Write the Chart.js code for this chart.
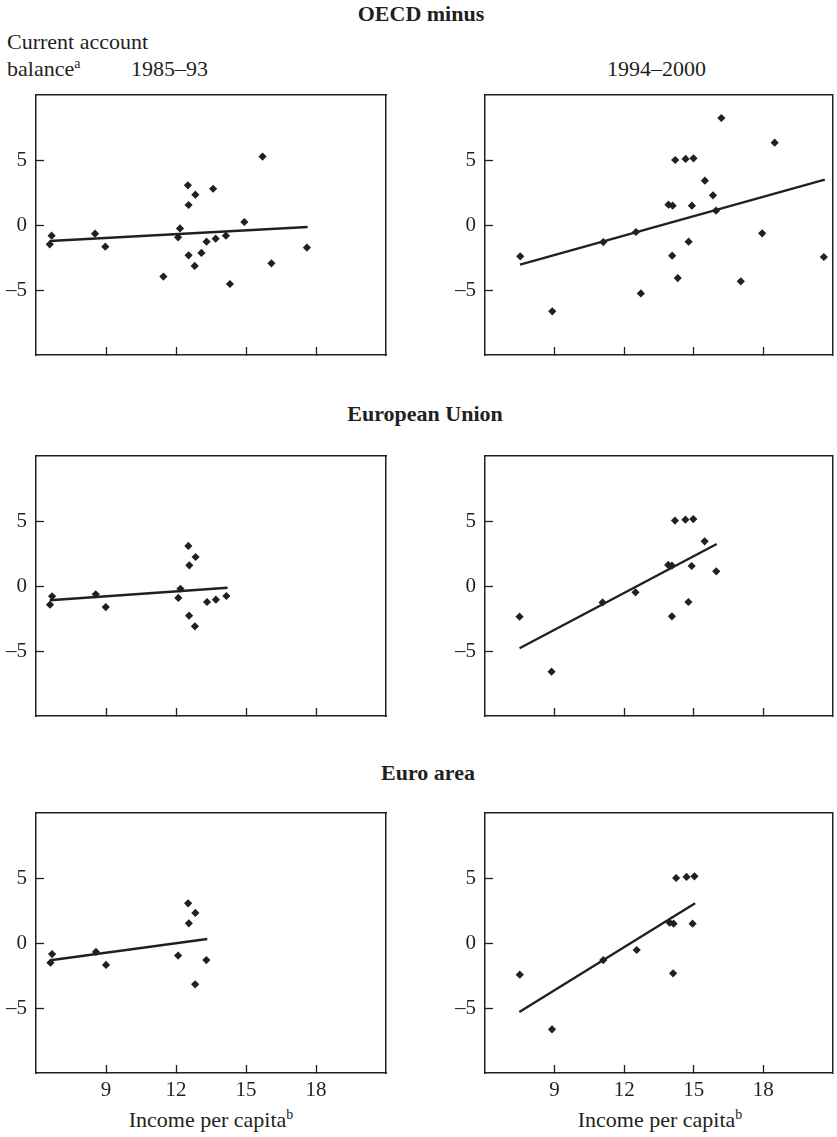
<!DOCTYPE html>
<html>
<head>
<meta charset="utf-8">
<script src="https://cdn.jsdelivr.net/npm/chart.js"></script>
<style>
  body { margin: 0; background: #fff; }
  #page { position: relative; width: 837px; height: 1137px; font-family: "Liberation Serif", "Times New Roman", serif; color: #231f20; }
  .txt { position: absolute; font-size: 22px; line-height: 22px; white-space: nowrap; }
  .head { font-weight: bold; transform: translateX(-50%); }
  .ctr { transform: translateX(-50%); }
  sup { font-size: 14px; vertical-align: 8px; line-height: 0; }
  canvas { position: absolute; }
</style>
</head>
<body>
<div id="page">
  <div class="txt head" style="left:421px; top:3px;">OECD minus</div>
  <div class="txt" style="left:7px; top:31px;">Current account</div>
  <div class="txt" style="left:7px; top:58px;">balance<sup>a</sup></div>
  <div class="txt" style="left:131px; top:58px;">1985–93</div>
  <div class="txt" style="left:607px; top:58px;">1994–2000</div>
  <div class="txt head" style="left:425px; top:403px;">European Union</div>
  <div class="txt head" style="left:428px; top:762px;">Euro area</div>
  <div class="txt ctr" style="left:211px; top:1109px;">Income per capita<sup>b</sup></div>
  <div class="txt ctr" style="left:660px; top:1109px;">Income per capita<sup>b</sup></div>

  <canvas id="c1" width="400" height="275" style="left:0; top:90px;"></canvas>
  <canvas id="c2" width="388" height="275" style="left:449px; top:90px;"></canvas>
  <canvas id="c3" width="400" height="275" style="left:0; top:451px;"></canvas>
  <canvas id="c4" width="388" height="275" style="left:449px; top:451px;"></canvas>
  <canvas id="c5" width="400" height="306" style="left:0; top:808px;"></canvas>
  <canvas id="c6" width="388" height="306" style="left:449px; top:808px;"></canvas>
</div>
<script>
  // income per capita (x) vs current account balance (y)
  const xTicks = [9, 12, 15, 18];
  const yTicks = [-5, 0, 5];

  // OECD minus, 1985-93
  const oecd85X = [6.59, 6.67, 8.53, 8.97, 11.46, 12.09, 12.17, 12.51, 12.54, 12.54, 12.83, 12.80, 13.09, 13.31, 13.59, 13.70, 14.14, 14.31, 14.93, 15.71, 16.09, 17.61];
  const oecd85Y = [-1.49, -0.82, -0.67, -1.67, -3.97, -0.95, -0.26, 3.05, 1.54, -2.33, 2.33, -3.15, -2.15, -1.28, 2.79, -1.05, -0.82, -4.54, 0.23, 5.26, -2.95, -1.74];
  const oecd85FitX = [6.59, 17.64];
  const oecd85FitY = [-1.23, -0.15];

  // OECD minus, 1994-2000
  const oecd94X = [7.52, 8.90, 11.10, 12.51, 12.72, 13.91, 14.09, 14.07, 14.20, 14.31, 14.65, 14.78, 14.92, 14.99, 15.48, 15.83, 15.96, 16.19, 17.03, 17.95, 18.49, 20.61];
  const oecd94Y = [-2.41, -6.64, -1.31, -0.54, -5.26, 1.56, 1.49, -2.36, 5.00, -4.08, 5.08, -1.28, 1.49, 5.13, 3.41, 2.28, 1.10, 8.23, -4.33, -0.64, 6.33, -2.46];
  const oecd94FitX = [7.51, 20.65];
  const oecd94FitY = [-3.05, 3.49];

  // European Union
  const eu85X = [6.60, 6.69, 8.56, 8.99, 12.10, 12.19, 12.53, 12.57, 12.56, 12.84, 12.81, 13.33, 13.71, 14.16];
  const eu85Y = [-1.44, -0.79, -0.64, -1.62, -0.92, -0.21, 3.08, 1.59, -2.28, 2.23, -3.10, -1.23, -1.05, -0.77];
  const eu85FitX = [6.59, 14.21];
  const eu85FitY = [-1.10, -0.13];

  const eu94X = [7.49, 8.87, 11.07, 12.49, 13.90, 14.06, 14.06, 14.19, 14.64, 14.77, 14.91, 14.98, 15.47, 15.97];
  const eu94Y = [-2.36, -6.59, -1.26, -0.49, 1.62, 1.56, -2.33, 5.03, 5.10, -1.23, 1.54, 5.15, 3.44, 1.13];
  const eu94FitX = [7.49, 15.99];
  const eu94FitY = [-4.79, 3.23];

  // Euro area
  const euro85X = [6.62, 6.69, 8.57, 9.00, 12.09, 12.52, 12.55, 12.83, 12.82, 13.30];
  const euro85Y = [-1.51, -0.85, -0.69, -1.69, -0.97, 3.05, 1.51, 2.31, -3.18, -1.31];
  const euro85FitX = [6.62, 13.34];
  const euro85FitY = [-1.33, 0.31];

  const euro94X = [7.50, 8.89, 11.10, 12.54, 13.96, 14.13, 14.11, 14.24, 14.69, 14.95, 15.03];
  const euro94Y = [-2.44, -6.64, -1.31, -0.54, 1.56, 1.49, -2.33, 5.00, 5.08, 1.49, 5.13];
  const euro94FitX = [7.48, 15.06];
  const euro94FitY = [-5.31, 3.05];

  const ink = '#231f20';
  const tickFont = { family: "'Liberation Serif', serif", size: 21 };

  function pairs(xs, ys) {
    return xs.map((x, i) => ({ x: x, y: ys[i] }));
  }

  function fmt(v) {
    return v < 0 ? '\u2013' + Math.abs(v) : String(v);
  }

  // drop the label overflow padding so the plot box sits where we put it
  function noPad(s) {
    s.paddingTop = 0; s.paddingBottom = 0; s.paddingLeft = 0; s.paddingRight = 0;
  }

  function makePanel(id, xs, ys, fitX, fitY, rightPad, bottomRow) {
    new Chart(document.getElementById(id), {
      type: 'scatter',
      data: {
        datasets: [{
          data: pairs(xs, ys),
          pointStyle: 'rectRot',
          pointRadius: 4.1,
          backgroundColor: ink,
          borderWidth: 0
        }, {
          data: pairs(fitX, fitY),
          showLine: true,
          pointRadius: 0,
          borderColor: ink,
          borderWidth: 2.4
        }]
      },
      options: {
        responsive: false,
        animation: false,
        layout: { padding: { top: 5, right: rightPad, left: 0, bottom: 0 } },
        plugins: { legend: { display: false }, tooltip: { enabled: false } },
        scales: {
          x: {
            type: 'linear', position: 'bottom', min: 6, max: 21,
            afterBuildTicks: s => { s.ticks = xTicks.map(v => ({ value: v })); },
            afterFit: s => { s.height = bottomRow ? 41 : 10; noPad(s); },
            grid: { drawOnChartArea: false, tickLength: -8, tickColor: ink, tickWidth: 1.3 },
            border: { color: ink, width: 1.5 },
            ticks: { padding: 13, color: ink, font: tickFont, maxRotation: 0, callback: v => bottomRow ? fmt(v) : '' }
          },
          y: {
            type: 'linear', position: 'left', min: -10, max: 10,
            afterBuildTicks: s => { s.ticks = yTicks.map(v => ({ value: v })); },
            afterFit: s => { s.width = 36; noPad(s); },
            grid: { drawOnChartArea: false, tickLength: -8, tickColor: ink, tickWidth: 1.3 },
            border: { color: ink, width: 1.5 },
            ticks: { padding: 17, color: ink, font: tickFont, callback: v => fmt(v) }
          },
          x2: {
            type: 'linear', position: 'top',
            afterFit: s => { s.height = 0; noPad(s); },
            grid: { drawOnChartArea: false, drawTicks: false },
            border: { color: ink, width: 1.5 },
            ticks: { display: false }
          },
          y2: {
            type: 'linear', position: 'right',
            afterFit: s => { s.width = 0; noPad(s); },
            grid: { drawOnChartArea: false, drawTicks: false },
            border: { color: ink, width: 1.5 },
            ticks: { display: false }
          }
        }
      }
    });
  }

  makePanel('c1', oecd85X, oecd85Y, oecd85FitX, oecd85FitY, 14, false);
  makePanel('c2', oecd94X, oecd94Y, oecd94FitX, oecd94FitY, 1, false);
  makePanel('c3', eu85X, eu85Y, eu85FitX, eu85FitY, 14, false);
  makePanel('c4', eu94X, eu94Y, eu94FitX, eu94FitY, 1, false);
  makePanel('c5', euro85X, euro85Y, euro85FitX, euro85FitY, 14, true);
  makePanel('c6', euro94X, euro94Y, euro94FitX, euro94FitY, 1, true);
</script>
</body>
</html>
